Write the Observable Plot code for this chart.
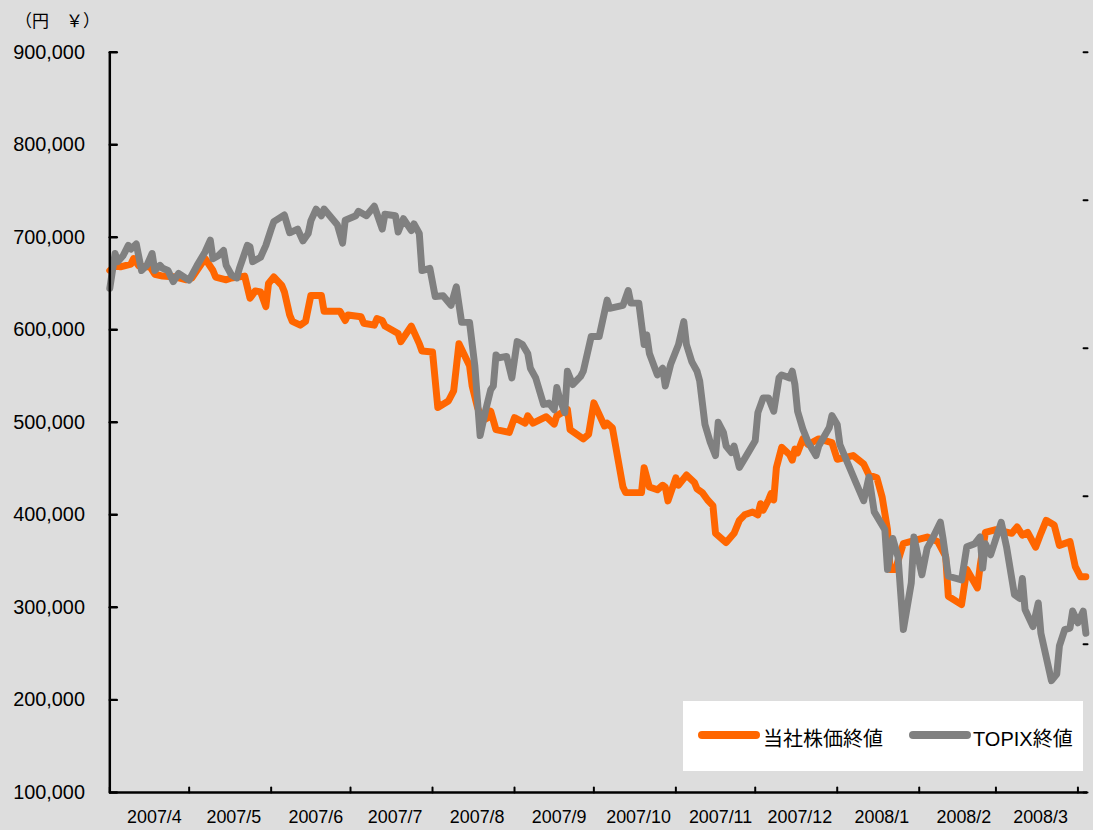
<!DOCTYPE html>
<html><head><meta charset="utf-8">
<script src="https://cdn.jsdelivr.net/npm/d3@7"></script>
<script src="https://cdn.jsdelivr.net/npm/@observablehq/plot@0.6"></script>
<style>
html,body{margin:0;padding:0;background:#dddddd;overflow:hidden;width:1093px;height:830px;}
#wrap{position:relative;width:1093px;height:830px;overflow:hidden;font-family:"Liberation Sans",Arial,"Noto Sans CJK JP",sans-serif;color:#000;}
#chart{position:absolute;left:0;top:0;}
#unit{position:absolute;left:15px;top:11px;font-size:17px;line-height:17px;font-family:"Noto Sans CJK JP",sans-serif;white-space:pre;}
#legend{position:absolute;left:683px;top:701px;width:400px;height:70px;background:#ffffff;}
.sw{position:absolute;top:30px;width:62px;height:8px;border-radius:4px;}
.lt{position:absolute;top:28px;font-size:20px;line-height:20px;white-space:nowrap;font-family:"Liberation Sans",Arial,"Noto Sans CJK JP",sans-serif;}
</style></head><body>
<div id="wrap">
  <div id="chart"></div>
  <div id="unit">（円　￥）</div>
  <div id="legend">
    <div class="sw" style="left:15px;background:#ff6600"></div><div class="lt" id="l1" style="left:80px"></div>
    <div class="sw" style="left:226px;background:#808080"></div><div class="lt" id="l2" style="left:290px"></div>
  </div>
</div>
<script>
// ---- data ----
const seriesNames = ["当社株価終値", "TOPIX終値"];
const companyDates = ["2007-04-01","2007-04-03","2007-04-05","2007-04-09","2007-04-10","2007-04-12","2007-04-15","2007-04-16","2007-04-18","2007-04-21","2007-04-26","2007-04-30",
"2007-05-02","2007-05-07","2007-05-10","2007-05-11","2007-05-15","2007-05-17","2007-05-22","2007-05-24","2007-05-26","2007-05-28","2007-05-30","2007-05-31",
"2007-06-02","2007-06-05","2007-06-06","2007-06-08","2007-06-09","2007-06-12","2007-06-14","2007-06-16","2007-06-20","2007-06-21","2007-06-27","2007-06-29","2007-06-30",
"2007-07-05","2007-07-06","2007-07-10","2007-07-11","2007-07-13","2007-07-14","2007-07-19","2007-07-20","2007-07-24","2007-07-27","2007-07-28",
"2007-08-01","2007-08-03","2007-08-07","2007-08-09","2007-08-11","2007-08-15","2007-08-16","2007-08-18","2007-08-20","2007-08-22","2007-08-23","2007-08-25","2007-08-30",
"2007-09-01","2007-09-05","2007-09-06","2007-09-08","2007-09-13","2007-09-16","2007-09-17","2007-09-21","2007-09-22","2007-09-27","2007-09-29",
"2007-10-01","2007-10-05","2007-10-06","2007-10-08","2007-10-12","2007-10-13","2007-10-19","2007-10-20","2007-10-22","2007-10-25","2007-10-27","2007-10-28","2007-10-29",
"2007-11-01","2007-11-02","2007-11-05","2007-11-08","2007-11-09","2007-11-11","2007-11-13","2007-11-15","2007-11-16","2007-11-20","2007-11-23","2007-11-25","2007-11-27","2007-11-30",
"2007-12-02","2007-12-03","2007-12-04","2007-12-06","2007-12-07","2007-12-08","2007-12-09","2007-12-11","2007-12-14","2007-12-15","2007-12-16","2007-12-17","2007-12-19","2007-12-21","2007-12-25","2007-12-30",
"2008-01-01","2008-01-07","2008-01-11","2008-01-13","2008-01-16","2008-01-18","2008-01-20","2008-01-21","2008-01-23","2008-01-26","2008-01-31",
"2008-02-04","2008-02-08","2008-02-11","2008-02-12","2008-02-17","2008-02-19","2008-02-23","2008-02-24","2008-02-26",
"2008-03-01","2008-03-07","2008-03-09","2008-03-11","2008-03-13","2008-03-16","2008-03-18","2008-03-20","2008-03-23","2008-03-25","2008-03-29","2008-03-31","2008-04-02","2008-04-04"];
// 当社株価終値 (thousand yen)
const companyValues = [664,669,668,671,677,669,668,669,660,658,657,654,
656,677,664,657,654,656,658,634,642,641,625,650,
657,648,641,616,609,605,609,637,637,620,620,610,616,
614,607,605,612,610,604,596,587,604,585,577,
576,516,523,534,585,561,539,516,502,505,512,492,489,
505,499,507,499,506,498,507,514,492,482,487,
521,496,499,494,430,424,424,451,430,427,432,430,415,
440,432,443,435,428,424,416,410,380,370,380,394,400,403,
400,412,405,416,423,416,451,473,465,459,471,467,482,476,482,478,
460,464,455,443,440,419,384,341,341,369,373,
376,371,355,312,303,341,321,344,381,
384,380,387,378,381,365,380,394,389,367,371,344,333,333];
const topixDates = ["2007-04-01","2007-04-03","2007-04-04","2007-04-06","2007-04-08","2007-04-09","2007-04-11","2007-04-13","2007-04-15","2007-04-17","2007-04-18","2007-04-20","2007-04-21","2007-04-23","2007-04-25","2007-04-27","2007-04-30",
"2007-05-01","2007-05-04","2007-05-07","2007-05-09","2007-05-10","2007-05-12","2007-05-14","2007-05-15","2007-05-17","2007-05-19","2007-05-20","2007-05-23","2007-05-24","2007-05-25","2007-05-28","2007-05-30",
"2007-06-01","2007-06-02","2007-06-06","2007-06-08","2007-06-11","2007-06-13","2007-06-15","2007-06-16","2007-06-18","2007-06-20","2007-06-21","2007-06-26","2007-06-28","2007-06-29",
"2007-07-03","2007-07-04","2007-07-07","2007-07-10","2007-07-13","2007-07-14","2007-07-18","2007-07-19","2007-07-21","2007-07-24","2007-07-25","2007-07-27","2007-07-28","2007-07-31",
"2007-08-02","2007-08-05","2007-08-08","2007-08-10","2007-08-12","2007-08-15","2007-08-17","2007-08-19","2007-08-21","2007-08-23","2007-08-24","2007-08-25","2007-08-26","2007-08-29","2007-08-31",
"2007-09-02","2007-09-04","2007-09-06","2007-09-07","2007-09-09","2007-09-12","2007-09-14","2007-09-16","2007-09-17","2007-09-18","2007-09-20","2007-09-21","2007-09-23","2007-09-26","2007-09-27","2007-09-30",
"2007-10-03","2007-10-06","2007-10-07","2007-10-12","2007-10-14","2007-10-15","2007-10-18","2007-10-20","2007-10-21","2007-10-22","2007-10-25","2007-10-27","2007-10-28","2007-10-30",
"2007-11-02","2007-11-04","2007-11-05","2007-11-07","2007-11-09","2007-11-10","2007-11-12","2007-11-14","2007-11-16","2007-11-17","2007-11-19","2007-11-20","2007-11-22","2007-11-23","2007-11-25","2007-11-28",
"2007-12-01","2007-12-02","2007-12-04","2007-12-06","2007-12-08","2007-12-10","2007-12-11","2007-12-14","2007-12-15","2007-12-16","2007-12-17","2007-12-19","2007-12-21","2007-12-24","2007-12-25","2007-12-29","2007-12-30",
"2008-01-01","2008-01-02","2008-01-04","2008-01-08","2008-01-11","2008-01-13","2008-01-15","2008-01-19","2008-01-20","2008-01-22","2008-01-24","2008-01-26","2008-01-29","2008-01-30",
"2008-02-02","2008-02-04","2008-02-06","2008-02-09","2008-02-10","2008-02-12","2008-02-17","2008-02-19","2008-02-22","2008-02-24","2008-02-25","2008-02-26","2008-02-28",
"2008-03-03","2008-03-05","2008-03-08","2008-03-10","2008-03-11","2008-03-12","2008-03-15","2008-03-17","2008-03-18","2008-03-22","2008-03-24","2008-03-25","2008-03-27","2008-03-29","2008-03-30",
"2008-04-01","2008-04-03","2008-04-04"];
// TOPIX終値 (points, right axis 1000–2000)
const topixValues = [1681,1728,1717,1725,1739,1734,1741,1705,1712,1728,1705,1712,1708,1705,1690,1701,1694,
1692,1712,1730,1746,1721,1725,1732,1712,1699,1695,1708,1739,1737,1717,1723,1739,
1761,1771,1780,1756,1761,1745,1755,1772,1788,1779,1788,1767,1742,1773,
1779,1785,1779,1792,1761,1781,1779,1757,1775,1759,1768,1755,1705,1708,
1670,1671,1658,1683,1635,1635,1576,1482,1515,1544,1549,1591,1587,1589,1560,
1609,1605,1593,1573,1560,1524,1526,1517,1547,1533,1513,1569,1551,1562,1569,1616,
1616,1665,1654,1658,1678,1661,1661,1605,1618,1593,1564,1573,1549,1578,
1605,1636,1605,1582,1569,1556,1497,1473,1455,1500,1486,1468,1459,1468,1439,1457,
1475,1513,1533,1533,1515,1560,1564,1560,1569,1551,1515,1491,1473,1455,1468,1493,1509,
1497,1470,1453,1419,1394,1426,1379,1355,1301,1343,1318,1220,1283,1345,
1294,1330,1343,1365,1343,1292,1287,1332,1336,1345,1303,1336,1321,
1365,1332,1267,1262,1289,1247,1224,1256,1215,1151,1160,1198,1220,1222,1245,
1229,1245,1215];
const leftTicks = [100000,200000,300000,400000,500000,600000,700000,800000,900000];
const rightTicks = [1000,1200,1400,1600,1800,2000];
const monthStarts = ["2007-04-01","2007-05-01","2007-06-01","2007-07-01","2007-08-01","2007-09-01","2007-10-01","2007-11-01","2007-12-01","2008-01-01","2008-02-01","2008-03-01","2008-04-01"];
const monthLabelDates = ["2007-04-16","2007-05-16","2007-06-16","2007-07-16","2007-08-16","2007-09-16","2007-10-16","2007-11-16","2007-12-16","2008-01-16","2008-02-16","2008-03-16"];

// ---- build ----
const parse = d3.utcParse("%Y-%m-%d");
const topixToYen = t => 100000 + (t - 1000) * 800; // right axis 1000..2000 ↔ left 100,000..900,000
const company = companyDates.map((d, i) => ({date: parse(d), value: companyValues[i] * 1000}));
const topix = topixDates.map((d, i) => ({date: parse(d), value: topixToYen(topixValues[i])}));
const xStart = parse("2007-04-01");
const xEnd = new Date(Date.UTC(2008, 3, 4, 15));
const tickShape = {draw(ctx, l) { ctx.moveTo(0, 0); ctx.lineTo(0, -l); }};

const chart = Plot.plot({
  width: 1100, height: 830,
  marginLeft: 110, marginRight: 6, marginTop: 52, marginBottom: 33,
  style: {background: "#dddddd", color: "#000", fontFamily: "'Liberation Sans', Arial, sans-serif", overflow: "visible"},
  x: {type: "utc", domain: [xStart, xEnd]},
  y: {domain: [100000, 900000]},
  marks: [
    Plot.lineY(company, {x: "date", y: "value", stroke: "#ff6600", strokeWidth: 7, strokeLinejoin: "round", strokeLinecap: "round"}),
    Plot.lineY(topix, {x: "date", y: "value", stroke: "#808080", strokeWidth: 7, strokeLinejoin: "round", strokeLinecap: "round"}),
    Plot.ruleX([xStart], {stroke: "#000", strokeWidth: 2.5}),
    Plot.ruleY([100000], {stroke: "#000", strokeWidth: 2.5}),
    Plot.vector(leftTicks, {x: () => xStart, y: d => d, length: 7, rotate: 90, anchor: "start", shape: tickShape, stroke: "#000", strokeWidth: 2.5}),
    Plot.vector(monthStarts.map(parse), {x: d => d, y: () => 100000, length: 5, rotate: 0, anchor: "start", shape: tickShape, stroke: "#000", strokeWidth: 2}),
    Plot.vector(rightTicks.map(topixToYen), {x: () => xEnd, y: d => d, length: 4, rotate: -90, anchor: "start", shape: tickShape, stroke: "#000", strokeWidth: 2}),
    Plot.axisY({ticks: leftTicks, tickSize: 0, tickPadding: 25, tickFormat: d3.format(","), fontSize: 20, label: null}),
    Plot.axisX({ticks: monthLabelDates.map(parse), tickSize: 0, tickPadding: 18, tickFormat: d3.utcFormat("%Y/%-m"), fontSize: 18, dx: 5, label: null})
  ]
});
document.getElementById("chart").appendChild(chart);
document.getElementById("l1").textContent = seriesNames[0];
document.getElementById("l2").textContent = seriesNames[1];
</script>
</body></html>
